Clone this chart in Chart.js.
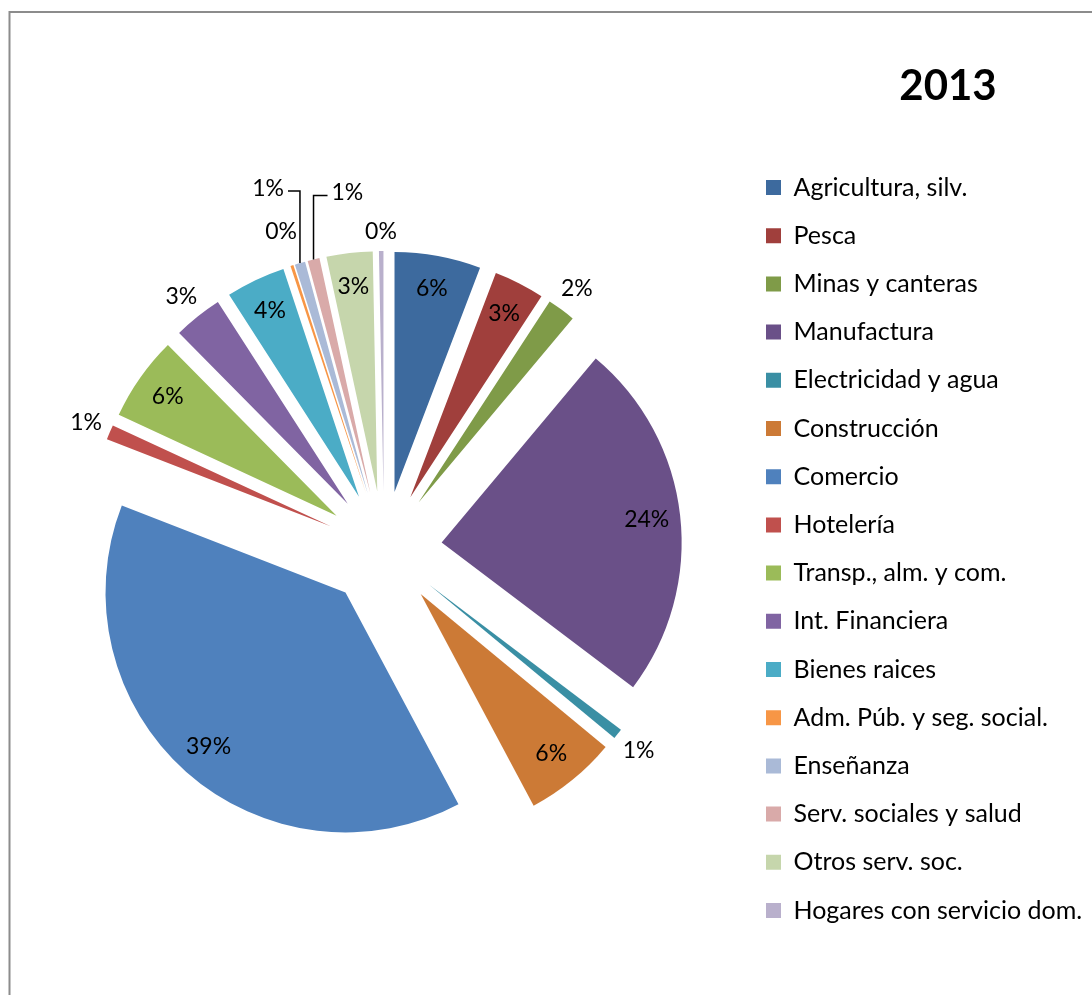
<!DOCTYPE html>
<html>
<head>
<meta charset="utf-8">
<title>2013</title>
<script src="https://cdn.jsdelivr.net/npm/chart.js@4/dist/chart.umd.min.js"></script>
<style>
  html, body { margin: 0; padding: 0; background: #ffffff; }
  canvas { display: block; }
</style>
</head>
<body>
<canvas id="chart" width="1092" height="995"></canvas>
<script>
// ---- data ----
const chartTitle = '2013';
const sectors = [
  'Agricultura, silv.', 'Pesca', 'Minas y canteras', 'Manufactura',
  'Electricidad y agua', 'Construcción', 'Comercio', 'Hotelería',
  'Transp., alm. y com.', 'Int. Financiera', 'Bienes raices',
  'Adm. Púb. y seg. social.', 'Enseñanza', 'Serv. sociales y salud',
  'Otros serv. soc.', 'Hogares con servicio dom.'
];
const shares = [5.8, 3.4, 1.9, 24.2, 0.7, 6.2, 38.7, 1.0, 5.7, 3.3, 4.0, 0.2, 0.7, 0.8, 3.1, 0.3];

// ---- style ----
const sliceColors = [
  '#3D6A9E', '#A03F3C', '#7F9B48', '#6A5088', '#3A8FA4', '#CC7A36',
  '#4F81BD', '#C0504D', '#9BBB59', '#8064A2', '#4BACC6', '#F79646',
  '#AABAD7', '#D9AAA9', '#C6D6AC', '#B9B0CC'
];
// where each percentage label goes: inside the slice, outside it, or on a leader line
const labelPlacement = [
  'in', 'in', 'out', 'in', 'out', 'in', 'in', 'out', 'in', 'out', 'in',
  { push: 12 },
  { side: -1, rise: 72, run: 12 },
  { side: 1, rise: 64, run: 14 },
  'in', 'out'
];
const FONT = 'Lato, "Open Sans", sans-serif';
const LABEL_SIZE = 23;       // percentage labels
const LEGEND_SIZE = 25;      // legend entries
const PIE_RADIUS = 240;
const EXPLODE = 58;          // distance every slice is pulled out from the centre
const LEGEND_BOX_X = 766;    // left edge of the legend swatches
const PIE_CENTER_X = 384;
const TITLE_X = 948, TITLE_Y = 86;

// legend geometry: size the right padding so the swatch column lands where wanted
const probe = document.createElement('canvas').getContext('2d');
probe.font = LEGEND_SIZE + 'px ' + FONT;
const widest = Math.max(...sectors.map(s => probe.measureText(s).width));
const LEGEND_PAD = 48.2 - LEGEND_SIZE;
const padRight = 1092 - LEGEND_BOX_X - 10 - (15 + LEGEND_SIZE / 2 + widest);
const legendLeft = LEGEND_BOX_X - LEGEND_PAD;
const padLeft = 2 * PIE_CENTER_X - legendLeft;

// frame, white background and the year heading
const framePlugin = {
  id: 'frame',
  beforeDraw(chart) {
    const ctx = chart.ctx;
    ctx.save();
    ctx.fillStyle = '#ffffff';
    ctx.fillRect(0, 0, chart.width, chart.height);
    ctx.strokeStyle = '#8c8c8c';
    ctx.lineWidth = 2;
    ctx.strokeRect(9.5, 12, chart.width + 20, chart.height + 20);
    ctx.restore();
  },
  afterDraw(chart) {
    const ctx = chart.ctx;
    ctx.save();
    ctx.fillStyle = '#000000';
    ctx.font = 'bold 42px ' + FONT;
    ctx.textAlign = 'center';
    ctx.textBaseline = 'middle';
    ctx.fillText(chartTitle, TITLE_X, TITLE_Y);
    ctx.restore();
  }
};

// draw each arc pushed outward along its bisector (exploded pie)
const explodePlugin = {
  id: 'explode',
  beforeDatasetDraw(chart, args) {
    const ctx = chart.ctx;
    args.meta.data.forEach(arc => {
      const mid = (arc.startAngle + arc.endAngle) / 2;
      ctx.save();
      ctx.translate(Math.cos(mid) * EXPLODE, Math.sin(mid) * EXPLODE);
      arc.draw(ctx, chart.chartArea);
      ctx.restore();
    });
    return false;
  }
};

// percentage labels
const pctLabelPlugin = {
  id: 'pctLabels',
  afterDatasetsDraw(chart) {
    const ctx = chart.ctx;
    const meta = chart.getDatasetMeta(0);
    const values = chart.data.datasets[0].data;
    const total = values.reduce((a, b) => a + b, 0);
    ctx.save();
    ctx.font = LABEL_SIZE + 'px ' + FONT;
    ctx.fillStyle = '#000000';
    ctx.strokeStyle = '#000000';
    ctx.lineWidth = 1.5;
    ctx.textAlign = 'center';
    ctx.textBaseline = 'middle';
    meta.data.forEach((arc, i) => {
      const mid = (arc.startAngle + arc.endAngle) / 2;
      const ux = Math.cos(mid), uy = Math.sin(mid);
      const ax = arc.x + ux * EXPLODE, ay = arc.y + uy * EXPLODE;
      const R = arc.outerRadius;
      const text = Math.round(values[i] / total * 100) + '%';
      const w = ctx.measureText(text).width;
      const p = labelPlacement[i];
      let x, y;
      if (p === 'in') {
        x = ax + ux * R * 0.86;
        y = ay + uy * R * 0.86;
      } else if (p === 'out' || (p && p.push !== undefined)) {
        const ext = Math.abs(ux) * w / 2 + Math.abs(uy) * 13;
        const d = R + 6 + ext + (p.push || 0);
        x = ax + ux * d;
        y = ay + uy * d;
      } else {
        const sx = ax + ux * R, sy = ay + uy * R;
        const ey = sy - p.rise;
        const ex = sx + p.side * p.run;
        ctx.beginPath();
        ctx.moveTo(sx, sy);
        ctx.lineTo(sx, ey);
        ctx.lineTo(ex, ey);
        ctx.stroke();
        x = ex + p.side * (4 + w / 2);
        y = ey - 3;
      }
      ctx.fillText(text, x, y);
    });
    ctx.restore();
  }
};

Chart.defaults.font.family = FONT;
Chart.defaults.color = '#000000';

new Chart(document.getElementById('chart'), {
  type: 'pie',
  data: {
    labels: sectors,
    datasets: [{
      data: shares,
      backgroundColor: sliceColors,
      borderWidth: 0,
      radius: PIE_RADIUS
    }]
  },
  options: {
    responsive: false,
    animation: false,
    events: [],
    layout: { padding: { top: 103, bottom: 0, left: padLeft, right: padRight } },
    plugins: {
      title: { display: false },
      tooltip: { enabled: false },
      legend: {
        position: 'right',
        align: 'center',
        labels: {
          boxWidth: 15,
          boxHeight: 15,
          padding: LEGEND_PAD,
          color: '#000000',
          font: { family: FONT, size: LEGEND_SIZE }
        }
      }
    }
  },
  plugins: [framePlugin, explodePlugin, pctLabelPlugin]
});
</script>
</body>
</html>
